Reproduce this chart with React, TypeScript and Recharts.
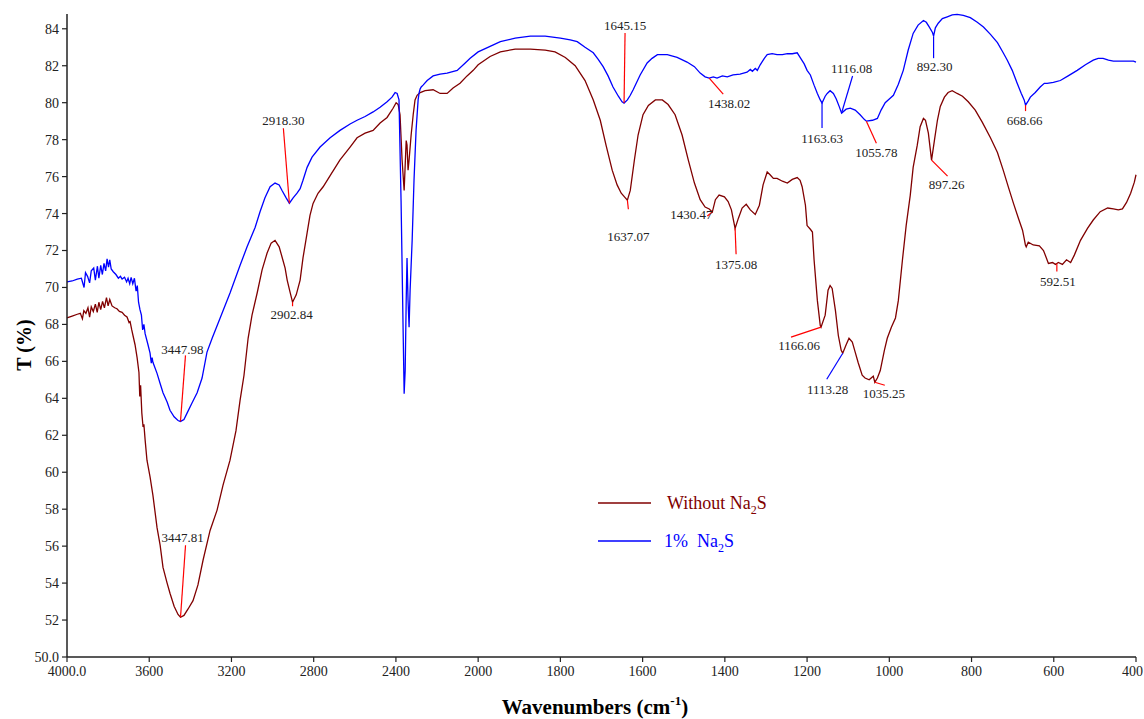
import React from 'react';
import { LineChart, Line, XAxis, YAxis, ReferenceDot } from 'recharts';

// 1% Na2S spectrum (blue)
const blueWn = [
  4000, 3975, 3950, 3930, 3917, 3910, 3900, 3890, 3882, 3870, 3862, 3852, 3845, 3836, 3828, 3820, 3812, 3805, 3798, 3792,
  3785, 3775, 3762, 3750, 3740, 3732, 3720, 3710, 3703, 3695, 3688, 3680, 3672, 3664, 3658, 3652, 3645, 3638, 3632, 3626,
  3620, 3606, 3596, 3590, 3586, 3582, 3562, 3547, 3533, 3513, 3499, 3479, 3460, 3448, 3431, 3416, 3392, 3367, 3343, 3319,
  3294, 3255, 3207, 3158, 3124, 3085, 3061, 3037, 3012, 2988, 2968, 2954, 2934, 2918.3, 2900, 2881, 2866, 2852, 2832, 2808,
  2769, 2720, 2672, 2623, 2589, 2550, 2511, 2477, 2443, 2419, 2404, 2394, 2385, 2375, 2365, 2360, 2355, 2350, 2346, 2341,
  2336, 2331, 2321, 2312, 2302, 2292, 2287, 2282, 2277, 2268, 2248, 2219, 2185, 2151, 2102, 2063, 2039, 2000, 1971, 1946,
  1910, 1873, 1837, 1800, 1776, 1759, 1740, 1720, 1708, 1696, 1684, 1672, 1659, 1650, 1645.15, 1637, 1630, 1623, 1606, 1589,
  1577, 1564, 1540, 1516, 1492, 1474, 1460, 1448, 1438.02, 1428, 1419, 1406, 1394, 1380, 1363, 1346, 1338, 1333, 1326, 1321,
  1314, 1304, 1297, 1285, 1273, 1260, 1248, 1236, 1224, 1217, 1207, 1200, 1192, 1183, 1175, 1168, 1163.63, 1156, 1151, 1144,
  1136, 1129, 1122, 1116.08, 1105, 1095, 1083, 1071, 1061, 1055.78, 1041, 1029, 1020, 1010, 1000, 990, 978, 966, 954, 942,
  930, 917, 910, 903, 895, 892.3, 888, 881, 871, 859, 847, 835, 820, 803, 786, 771, 754, 737, 723, 713,
  701, 689, 679, 672, 668.66, 662, 657, 645, 633, 623, 616, 601, 584, 565, 543, 523, 504, 492, 480, 467,
  455, 438, 421, 406, 400,
];
const blueT = [
  70.3, 70.35, 70.45, 70.5, 70.0, 70.8, 70.6, 70.25, 70.9, 71.05, 70.4, 71.15, 70.5, 71.2, 70.7, 71.3, 70.9, 71.55, 71.1, 71.5,
  71.0, 70.85, 70.7, 70.5, 70.6, 70.45, 70.55, 70.3, 70.5, 70.2, 70.55, 70.2, 70.5, 69.8, 70.1, 69.2, 68.8, 68.5, 67.7, 68.0,
  67.5, 66.9, 66.45, 65.9, 66.2, 65.95, 65.35, 64.8, 64.3, 63.8, 63.35, 63.0, 62.8, 62.75, 62.85, 63.2, 63.75, 64.3, 65.1, 66.5,
  67.25, 68.35, 69.7, 71.2, 72.2, 73.25, 74.1, 74.85, 75.45, 75.65, 75.55, 75.25, 74.85, 74.56, 74.85, 75.1, 75.35, 75.8, 76.5, 77.05,
  77.6, 78.1, 78.5, 78.85, 79.05, 79.25, 79.5, 79.75, 80.05, 80.3, 80.55, 80.5, 80.15, 74.7, 67.7, 64.25, 65.5, 69.3, 71.6, 69.3,
  67.85, 69.85, 72.55, 75.8, 78.5, 80.15, 80.55, 80.75, 80.85, 80.95, 81.2, 81.45, 81.55, 81.6, 81.75, 82.15, 82.4, 82.75, 83.05, 83.3,
  83.5, 83.6, 83.6, 83.5, 83.4, 83.3, 83.0, 82.7, 82.35, 81.95, 81.45, 80.85, 80.35, 80.05, 79.98, 80.15, 80.4, 80.7, 81.5, 82.15,
  82.4, 82.6, 82.6, 82.45, 82.2, 81.95, 81.6, 81.4, 81.33, 81.4, 81.33, 81.45, 81.4, 81.5, 81.55, 81.65, 81.8, 81.7, 81.85, 81.75,
  82.05, 82.4, 82.6, 82.65, 82.6, 82.6, 82.65, 82.65, 82.7, 82.45, 82.1, 81.75, 81.5, 80.95, 80.5, 80.15, 79.98, 80.35, 80.5, 80.65,
  80.5, 80.2, 79.8, 79.44, 79.65, 79.7, 79.6, 79.35, 79.1, 79.0, 79.05, 79.15, 79.6, 80.0, 80.2, 80.4, 81.0, 81.75, 82.85, 83.75,
  84.2, 84.45, 84.35, 84.1, 83.8, 83.6, 84.05, 84.3, 84.55, 84.65, 84.75, 84.78, 84.72, 84.6, 84.35, 84.1, 83.7, 83.25, 82.7, 82.3,
  81.75, 81.05, 80.5, 80.15, 79.87, 80.1, 80.3, 80.55, 80.85, 81.05, 81.05, 81.1, 81.2, 81.45, 81.75, 82.05, 82.3, 82.4, 82.4, 82.3,
  82.25, 82.25, 82.25, 82.25, 82.2,
];

// without Na2S spectrum (dark red)
const redWn = [
  4000, 3975, 3950, 3935, 3925, 3918, 3908, 3898, 3890, 3882, 3872, 3862, 3853, 3845, 3836, 3827, 3818, 3808, 3800, 3792,
  3781, 3768, 3757, 3745, 3732, 3720, 3708, 3698, 3693, 3685, 3679, 3669, 3659, 3650, 3646, 3642, 3636, 3630, 3626, 3620,
  3611, 3596, 3582, 3562, 3547, 3533, 3513, 3499, 3479, 3460, 3447.81, 3431, 3411, 3387, 3363, 3338, 3304, 3270, 3241, 3207,
  3178, 3158, 3139, 3119, 3100, 3075, 3051, 3027, 3007, 2988, 2968, 2954, 2939, 2929, 2915, 2902.84, 2885, 2866, 2852, 2832,
  2818, 2803, 2779, 2754, 2720, 2672, 2623, 2589, 2550, 2511, 2477, 2443, 2414, 2399, 2389, 2380, 2370, 2360, 2355, 2350,
  2346, 2341, 2336, 2326, 2316, 2307, 2297, 2282, 2258, 2219, 2185, 2151, 2122, 2088, 2054, 2024, 2000, 1971, 1946, 1910,
  1873, 1837, 1813, 1788, 1764, 1740, 1720, 1703, 1689, 1674, 1662, 1652, 1642, 1637.07, 1630, 1620, 1611, 1599, 1586, 1569,
  1552, 1538, 1521, 1504, 1489, 1474, 1460, 1448, 1438, 1430.47, 1423, 1414, 1401, 1392, 1384, 1375.08, 1367, 1358, 1348, 1338,
  1326, 1316, 1307, 1297, 1290, 1282, 1273, 1260, 1248, 1236, 1224, 1217, 1212, 1204, 1200, 1192, 1187, 1183, 1175, 1168,
  1166.06, 1156, 1149, 1144, 1139, 1131, 1124, 1117, 1113.28, 1105, 1098, 1090, 1083, 1076, 1066, 1059, 1049, 1039, 1035.25, 1029,
  1022, 1012, 1005, 995, 985, 978, 968, 959, 949, 942, 932, 925, 917, 912, 905, 897.26, 890, 883, 876, 866,
  857, 847, 835, 822, 808, 791, 774, 754, 737, 723, 710, 698, 686, 676, 672, 669, 667, 662, 650, 635,
  625, 618, 613, 603, 596, 592.51, 589, 579, 569, 559, 550, 535, 518, 504, 487, 469, 455, 443, 433, 423,
  413, 404, 400,
];
const redT = [
  68.35, 68.45, 68.55, 68.6, 68.3, 68.75, 68.6, 68.9, 68.4, 68.95, 68.7, 69.1, 68.65, 69.2, 68.8, 69.25, 68.9, 69.45, 69.0, 69.35,
  69.0, 68.9, 68.85, 68.7, 68.65, 68.5, 68.4, 68.1, 68.15, 67.7, 67.4, 66.9, 66.2, 65.4, 64.1, 64.7, 63.2, 62.45, 62.6, 61.75,
  60.65, 59.75, 58.75, 57.0, 56.05, 54.85, 54.0, 53.45, 52.75, 52.3, 52.15, 52.25, 52.6, 53.05, 53.9, 55.25, 56.85, 57.95, 59.3, 60.65,
  62.25, 63.9, 65.25, 67.25, 68.5, 69.7, 70.95, 71.85, 72.4, 72.55, 72.2, 71.65, 71.05, 70.4, 69.75, 69.2, 69.6, 70.4, 71.6, 72.95,
  73.9, 74.55, 75.1, 75.45, 76.05, 76.9, 77.6, 78.1, 78.35, 78.5, 78.9, 79.2, 79.7, 80.0, 79.9, 79.35, 76.9, 75.25, 76.6, 77.95,
  77.7, 76.35, 76.9, 78.25, 79.35, 80.15, 80.4, 80.55, 80.65, 80.7, 80.5, 80.5, 80.8, 81.05, 81.45, 81.75, 82.05, 82.5, 82.75, 82.9,
  82.9, 82.85, 82.75, 82.45, 82.0, 81.2, 80.15, 79.05, 77.7, 76.35, 75.55, 75.1, 74.85, 74.72, 75.25, 76.9, 78.25, 79.35, 79.85, 80.15,
  80.15, 79.9, 79.35, 78.25, 76.9, 75.65, 74.75, 74.35, 74.25, 74.08, 74.75, 75.0, 74.9, 74.65, 74.2, 73.2, 73.75, 74.3, 74.5, 74.2,
  73.95, 74.45, 75.55, 76.25, 76.1, 75.9, 75.9, 75.75, 75.65, 75.85, 75.95, 75.8, 75.45, 74.45, 73.35, 73.15, 73.0, 71.5, 69.3, 67.95,
  67.85, 68.5, 69.85, 70.1, 69.95, 68.75, 67.4, 66.6, 66.44, 66.9, 67.25, 67.05, 66.5, 65.95, 65.25, 65.1, 65.0, 65.2, 64.87, 65.1,
  65.5, 66.6, 67.25, 67.85, 68.35, 69.3, 71.5, 73.35, 75.0, 76.5, 77.7, 78.7, 79.15, 79.05, 78.35, 76.89, 78.0, 79.05, 79.8, 80.3,
  80.55, 80.65, 80.5, 80.35, 80.05, 79.6, 78.95, 78.1, 77.3, 76.35, 75.4, 74.55, 73.75, 73.1, 72.65, 72.3, 72.2, 72.45, 72.3, 72.25,
  72.0, 71.6, 71.3, 71.35, 71.25, 71.3, 71.35, 71.25, 71.5, 71.35, 71.75, 72.55, 73.2, 73.65, 74.1, 74.3, 74.25, 74.2, 74.25, 74.6,
  75.1, 75.7, 76.1,
];

const xTickValues = [4000, 3600, 3200, 2800, 2400, 2000, 1800, 1600, 1400, 1200, 1000, 800, 600, 400];
const yTickValues = [50, 52, 54, 56, 58, 60, 62, 64, 66, 68, 70, 72, 74, 76, 78, 80, 82, 84];

// marked peaks: wavenumber and transmittance at the peak
const peakWn = [3447.98, 3447.81, 2918.3, 2902.84, 1645.15, 1637.07, 1438.02, 1430.47, 1375.08, 1166.06, 1163.63, 1116.08, 1113.28, 1055.78, 1035.25, 897.26, 892.3, 668.66, 592.51];
const peakT = [62.75, 52.15, 74.56, 69.2, 79.98, 74.72, 81.33, 74.08, 73.2, 67.85, 79.98, 79.44, 66.44, 79.0, 64.87, 76.89, 83.6, 79.87, 71.3];

// leader line end and label centre, offsets in px from the peak; leader colour
const peakLayout: Record<string, { lx: number; ly: number; tx: number; ty: number; c: string }> = {
  '3447.98': { lx: 5, ly: -66, tx: 2, ty: -72, c: '#ff0000' },
  '3447.81': { lx: 5, ly: -72, tx: 2, ty: -80, c: '#ff0000' },
  '2918.30': { lx: -6, ly: -75, tx: -6, ty: -83, c: '#ff0000' },
  '2902.84': { lx: 0, ly: 4, tx: -1, ty: 12, c: '#ff0000' },
  '1645.15': { lx: 1, ly: -70, tx: 1, ty: -78, c: '#ff0000' },
  '1637.07': { lx: 1, ly: 9, tx: 1, ty: 36, c: '#ff0000' },
  '1438.02': { lx: 14, ly: 16, tx: 20, ty: 25, c: '#ff0000' },
  '1430.47': { lx: -5, ly: 4, tx: -21, ty: 2, c: '#ff0000' },
  '1375.08': { lx: 1, ly: 26, tx: 1, ty: 36, c: '#ff0000' },
  '1166.06': { lx: -30, ly: 10, tx: -22, ty: 18, c: '#ff0000' },
  '1163.63': { lx: 0, ly: 25, tx: 0, ty: 35, c: '#0000ff' },
  '1116.08': { lx: 11, ly: -37, tx: 10, ty: -45, c: '#0000ff' },
  '1113.28': { lx: -16, ly: 26, tx: -15, ty: 36, c: '#0000ff' },
  '1055.78': { lx: 10, ly: 22, tx: 10, ty: 31, c: '#ff0000' },
  '1035.25': { lx: 10, ly: 3, tx: 9, ty: 11, c: '#ff0000' },
  '897.26': { lx: 16, ly: 16, tx: 15, ty: 24, c: '#ff0000' },
  '892.30': { lx: 0, ly: 22, tx: 1, ty: 30, c: '#0000ff' },
  '668.66': { lx: 0, ly: 6, tx: -1, ty: 15, c: '#ff0000' },
  '592.51': { lx: 0, ly: 8, tx: 1, ty: 18, c: '#ff0000' },
};

// split wavenumber axis: 400 cm-1 per division above 2000, 200 cm-1 below
const toAxis = (wn: number) => (wn >= 2000 ? (4000 - wn) / 2 : 1000 + (2000 - wn));

const blueRows = blueWn.map((wn, i) => ({ x: toAxis(wn), t: blueT[i] }));
const redRows = redWn.map((wn, i) => ({ x: toAxis(wn), t: redT[i] }));
const xTicks = xTickValues.map(toAxis);

const FONT = '"Liberation Serif", "Times New Roman", serif';
const RED = '#800000';
const BLUE = '#0000ff';

const XTick = (props: any) => {
  const { x, y, payload } = props;
  const wn = xTickValues[xTicks.indexOf(payload.value)];
  const last = wn === 400;
  return (
    <text x={last ? x + 7 : x} y={y + 12} textAnchor={last ? 'end' : 'middle'} fontFamily={FONT} fontSize={14} fill="#222">
      {wn === 4000 ? '4000.0' : String(wn)}
    </text>
  );
};
const fmtY = (v: number) => (v === 50 ? '50.0' : String(v));

const PeakMark = (props: any) => {
  const { cx, cy, label } = props;
  const l = peakLayout[label];
  if (cx == null || !l) return null;
  return (
    <g>
      <line x1={cx} y1={cy} x2={cx + l.lx} y2={cy + l.ly} stroke={l.c} strokeWidth={1.2} />
      <text x={cx + l.tx} y={cy + l.ty} textAnchor="middle" dominantBaseline="central" fontFamily={FONT} fontSize={13} fill="#222">
        {label}
      </text>
    </g>
  );
};

const YTitle = () => (
  <text x={24} y={345} transform="rotate(-90 24 345)" textAnchor="middle" dominantBaseline="central" fontFamily={FONT} fontSize={20} fontWeight="bold" fill="#000">
    T (%)
  </text>
);

const XTitle = () => (
  <text x={595} y={714} textAnchor="middle" fontFamily={FONT} fontSize={21} fontWeight="bold" fill="#000">
    Wavenumbers (cm<tspan fontSize={13} dy={-9}>-1</tspan><tspan dy={9}>)</tspan>
  </text>
);

const LegendBox = () => (
  <div style={{ position: 'absolute', left: 598, top: 491, width: 260, height: 70, fontFamily: FONT, fontSize: 18 }}>
    <svg width={60} height={70} style={{ position: 'absolute', left: 0, top: 0 }}>
      <line x1={0} y1={12} x2={53} y2={12} stroke={RED} strokeWidth={1.5} />
      <line x1={0} y1={50} x2={53} y2={50} stroke={BLUE} strokeWidth={1.5} />
    </svg>
    <div style={{ position: 'absolute', left: 69, top: 0, color: RED, lineHeight: '24px', whiteSpace: 'nowrap' }}>
      Without Na<sub style={{ fontSize: 12 }}>2</sub>S
    </div>
    <div style={{ position: 'absolute', left: 66, top: 38, color: BLUE, lineHeight: '24px', whiteSpace: 'nowrap' }}>
      1%&nbsp;&nbsp;Na<sub style={{ fontSize: 12 }}>2</sub>S
    </div>
  </div>
);

const App = () => {
  return (
    <div style={{ position: 'absolute', left: 0, top: 0, width: 1144, height: 719, background: '#fff' }}>
      <LineChart width={1144} height={719} margin={{ top: 14, right: 8, bottom: 32, left: 7 }}>
        <XAxis
          type="number"
          dataKey="x"
          domain={[0, 2600]}
          ticks={xTicks}
          interval={0}
          height={30}
          axisLine={{ stroke: '#222', strokeWidth: 1.5 }}
          tickLine={{ stroke: '#222', strokeWidth: 1.2 }}
          tickSize={5}
          tick={<XTick />}
          label={<XTitle />}
        />
        <YAxis
          type="number"
          dataKey="t"
          domain={[50, 84.8]}
          ticks={yTickValues}
          tickFormatter={fmtY}
          interval={0}
          width={60}
          axisLine={{ stroke: '#222', strokeWidth: 1.5 }}
          tickLine={{ stroke: '#222', strokeWidth: 1.2 }}
          tickSize={5}
          tickMargin={3}
          tick={{ fontFamily: FONT, fontSize: 14, fill: '#222' }}
          label={<YTitle />}
        />
        <Line data={redRows} dataKey="t" stroke={RED} strokeWidth={1.3} dot={false} isAnimationActive={false} name="Without Na2S" />
        <Line data={blueRows} dataKey="t" stroke={BLUE} strokeWidth={1.3} dot={false} isAnimationActive={false} name="1% Na2S" />
        {peakWn.map((wn, i) => (
          <ReferenceDot
            key={i}
            x={toAxis(wn)}
            y={peakT[i]}
            r={0}
            shape={(p: any) => <PeakMark {...p} label={wn.toFixed(2)} />}
          />
        ))}
      </LineChart>
      <LegendBox />
    </div>
  );
};

export default App;
